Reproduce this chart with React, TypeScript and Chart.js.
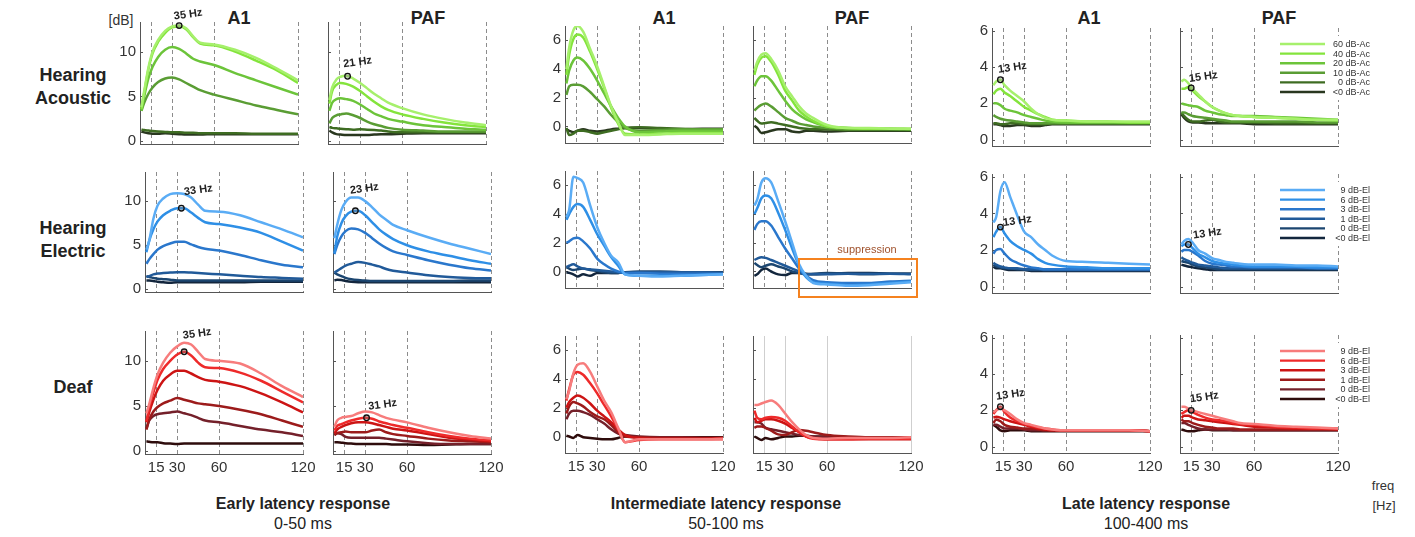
import React, { useEffect, useRef } from "react";
import { Chart, registerables } from "chart.js";

Chart.register(...registerables);
Chart.defaults.font.family = '"Liberation Sans", Arial, Helvetica, sans-serif';

// ---------------- DATA ----------------
const freqs = [8, 10, 13, 16, 20, 25, 30, 35, 40, 45, 50, 60, 75, 90, 105, 120];
const xTickValues = [15, 30, 60, 120];

const acousticLabels = ["60 dB-Ac", "40 dB-Ac", "20 dB-Ac", "10 dB-Ac", "0 dB-Ac", "<0 dB-Ac"];
const electricLabels = ["9 dB-El", "6 dB-El", "3 dB-El", "1 dB-El", "0 dB-El", "<0 dB-El"];

const greenColors = ["#a6f06c", "#84e43c", "#6cc43a", "#5a9d34", "#3e6c22", "#29371f"];
const blueColors = ["#5aacf5", "#2e8fe6", "#2a77cc", "#215a99", "#1c4670", "#13263d"];
const redColors = ["#f77c7c", "#ee2a2a", "#cc1414", "#9c1b1b", "#74202a", "#2e0c0c"];

// Hearing Acoustic
const acEarlyA1 = [
  [3.8, 5.6, 8.2, 10.0, 11.3, 12.3, 12.8, 12.9, 12.6, 11.7, 11.0, 10.8, 10.2, 9.3, 8.1, 6.8],
  [3.6, 5.4, 8.0, 9.8, 11.1, 12.1, 12.7, 12.8, 12.5, 11.6, 10.9, 10.7, 10.0, 9.0, 7.9, 6.5],
  [3.4, 5.0, 7.0, 8.3, 9.4, 10.2, 10.5, 10.3, 9.8, 9.2, 8.9, 8.5, 7.6, 6.8, 6.0, 5.2],
  [3.4, 4.3, 5.3, 6.0, 6.6, 7.0, 7.1, 6.9, 6.5, 6.1, 5.7, 5.2, 4.6, 4.0, 3.5, 3.0],
  [1.3, 1.25, 1.2, 1.15, 1.1, 1.05, 1.0, 1.0, 0.95, 0.95, 0.9, 0.9, 0.9, 0.85, 0.85, 0.85],
  [1.1, 1.0, 0.9, 0.85, 0.85, 0.9, 0.85, 0.8, 0.75, 0.75, 0.75, 0.8, 0.8, 0.8, 0.8, 0.8],
];
const acEarlyPAF = [
  [4.6, 6.0, 6.9, 7.2, 7.3, 7.0, 6.5, 5.9, 5.3, 4.8, 4.3, 3.7, 3.0, 2.5, 2.1, 1.8],
  [4.2, 5.6, 6.3, 6.5, 6.4, 6.1, 5.6, 5.0, 4.4, 3.9, 3.5, 3.0, 2.5, 2.1, 1.8, 1.6],
  [3.4, 4.3, 4.7, 4.8, 4.7, 4.5, 4.1, 3.6, 3.1, 2.8, 2.5, 2.2, 1.8, 1.6, 1.4, 1.3],
  [2.0, 2.6, 2.9, 3.0, 3.1, 2.9, 2.6, 2.2, 1.9, 1.7, 1.5, 1.3, 1.2, 1.1, 1.1, 1.1],
  [1.6, 1.5, 1.45, 1.4, 1.35, 1.3, 1.35, 1.3, 1.25, 1.2, 1.1, 1.0, 1.0, 1.0, 1.0, 1.0],
  [1.2, 1.0, 0.8, 0.75, 0.7, 0.7, 0.7, 0.7, 0.75, 0.8, 0.8, 0.85, 0.9, 0.9, 0.9, 0.9],
];
const acMidA1 = [
  [4.0, 5.5, 6.7, 7.0, 6.6, 5.4, 4.2, 2.8, 1.4, 0.3, -0.6, -0.6, -0.55, -0.5, -0.5, -0.5],
  [3.6, 5.0, 6.1, 6.4, 6.2, 5.2, 4.0, 2.7, 1.3, 0.2, -0.5, -0.55, -0.5, -0.45, -0.45, -0.45],
  [3.0, 3.9, 4.6, 4.8, 4.6, 4.0, 3.2, 2.3, 1.4, 0.6, 0.0, -0.4, -0.35, -0.3, -0.3, -0.3],
  [2.2, 2.8, 2.9, 2.9, 2.8, 2.4, 1.9, 1.4, 0.8, 0.3, -0.1, -0.3, -0.25, -0.2, -0.2, -0.2],
  [-0.1, -0.6, -0.5, -0.3, -0.3, -0.4, -0.5, -0.4, -0.3, -0.2, -0.1, -0.05, -0.1, -0.15, -0.2, -0.2],
  [-0.2, -0.3, -0.4, -0.3, -0.2, -0.3, -0.35, -0.3, -0.2, -0.15, -0.1, -0.1, -0.15, -0.2, -0.15, -0.15],
];
const acMidPAF = [
  [3.9, 4.5, 5.0, 5.1, 4.7, 3.9, 2.8, 2.1, 1.4, 0.9, 0.6, 0.1, -0.1, -0.1, -0.15, -0.15],
  [3.6, 4.3, 4.8, 4.9, 4.5, 3.6, 2.5, 1.8, 1.1, 0.7, 0.4, 0.0, -0.1, -0.15, -0.15, -0.15],
  [2.8, 3.2, 3.5, 3.5, 3.2, 2.5, 1.8, 1.2, 0.8, 0.5, 0.3, 0.0, -0.1, -0.15, -0.15, -0.2],
  [1.1, 1.3, 1.5, 1.6, 1.4, 1.0, 0.6, 0.4, 0.2, 0.1, 0.0, -0.1, -0.2, -0.2, -0.2, -0.2],
  [0.6, 0.4, 0.2, 0.25, 0.3, 0.2, 0.1, 0.0, -0.1, -0.15, -0.2, -0.2, -0.25, -0.25, -0.25, -0.25],
  [0.05, -0.1, -0.45, -0.4, -0.3, -0.2, -0.2, -0.35, -0.4, -0.3, -0.3, -0.35, -0.3, -0.3, -0.3, -0.3],
];
const acLateA1 = [
  [3.0, 3.2, 3.3, 3.0, 2.7, 2.4, 2.1, 1.7, 1.4, 1.2, 1.1, 1.05, 1.0, 1.0, 1.0, 1.0],
  [2.5, 2.7, 2.8, 2.6, 2.4, 2.1, 1.8, 1.6, 1.4, 1.25, 1.1, 1.05, 1.0, 1.0, 0.95, 0.95],
  [2.0, 2.0, 1.9, 1.7, 1.6, 1.5, 1.35, 1.25, 1.15, 1.05, 1.0, 0.95, 0.95, 0.95, 0.95, 0.95],
  [1.35, 1.25, 1.15, 1.1, 1.05, 1.0, 0.95, 0.9, 0.9, 0.9, 0.9, 0.9, 0.9, 0.9, 0.9, 0.9],
  [0.9, 0.9, 0.85, 0.85, 0.9, 0.9, 0.85, 0.85, 0.85, 0.85, 0.9, 0.9, 0.9, 0.9, 0.9, 0.9],
  [0.85, 0.85, 0.8, 0.75, 0.75, 0.8, 0.8, 0.75, 0.75, 0.8, 0.85, 0.85, 0.85, 0.85, 0.85, 0.85],
];
const acLatePAF = [
  [3.2, 3.3, 3.1, 2.8, 2.5, 2.1, 1.8, 1.6, 1.45, 1.35, 1.3, 1.25, 1.2, 1.15, 1.1, 1.1],
  [2.8, 2.8, 2.9, 2.7, 2.4, 2.1, 1.8, 1.6, 1.45, 1.35, 1.3, 1.25, 1.2, 1.15, 1.1, 1.05],
  [2.0, 1.95, 1.9, 1.85, 1.8, 1.6, 1.5, 1.4, 1.35, 1.3, 1.3, 1.3, 1.25, 1.2, 1.15, 1.1],
  [1.5, 1.5, 1.4, 1.3, 1.25, 1.2, 1.15, 1.1, 1.05, 1.0, 1.0, 1.0, 1.0, 1.0, 0.95, 0.95],
  [1.5, 1.3, 1.1, 1.0, 1.0, 1.05, 1.1, 1.0, 0.95, 0.95, 0.95, 0.95, 0.9, 0.9, 0.9, 0.9],
  [1.4, 1.2, 1.0, 0.95, 0.95, 0.9, 0.9, 0.9, 0.9, 0.9, 0.9, 0.85, 0.85, 0.85, 0.85, 0.85],
];

// Hearing Electric
const elEarlyA1 = [
  [4.5, 5.5, 8.0, 9.5, 10.3, 10.8, 10.9, 10.8, 10.4, 9.6, 8.9, 8.8, 8.4, 7.6, 6.8, 5.9],
  [4.2, 5.5, 6.8, 7.7, 8.4, 8.9, 9.2, 9.2, 8.7, 8.1, 7.6, 7.4, 7.0, 6.4, 5.4, 4.4],
  [2.9, 3.4, 4.0, 4.5, 4.9, 5.2, 5.4, 5.4, 5.1, 4.8, 4.6, 4.4, 3.9, 3.3, 2.8, 2.5],
  [1.4, 1.5, 1.7, 1.8, 1.85, 1.9, 1.95, 1.95, 1.9, 1.85, 1.8, 1.7, 1.55, 1.4, 1.3, 1.2],
  [1.5, 1.4, 1.3, 1.2, 1.15, 1.1, 1.0, 1.0, 1.0, 1.0, 1.0, 1.0, 1.0, 1.0, 1.0, 1.0],
  [1.0, 1.0, 0.95, 0.85, 0.8, 0.75, 0.8, 0.8, 0.8, 0.8, 0.8, 0.8, 0.8, 0.85, 0.85, 0.85],
];
const elEarlyPAF = [
  [5.8, 7.3, 9.0, 9.9, 10.4, 10.4, 10.0, 9.3, 8.5, 7.9, 7.3, 6.7, 5.9, 5.2, 4.6, 4.0],
  [4.1, 6.0, 7.5, 8.3, 8.8, 8.9, 8.4, 7.6, 6.8, 6.2, 5.7, 5.0, 4.3, 3.8, 3.3, 2.9],
  [4.0, 5.0, 6.0, 6.6, 6.9, 6.8, 6.4, 5.8, 5.2, 4.7, 4.3, 3.9, 3.3, 2.8, 2.4, 2.15],
  [1.9, 2.1, 2.4, 2.7, 2.9, 3.1, 3.0, 2.8, 2.6, 2.3, 2.1, 1.9, 1.6, 1.4, 1.3, 1.25],
  [1.9, 1.7, 1.5, 1.3, 1.15, 1.05, 1.0, 0.95, 0.95, 0.95, 0.95, 0.95, 0.95, 0.95, 1.0, 1.0],
  [1.0, 1.1, 1.05, 0.95, 0.85, 0.8, 0.8, 0.8, 0.8, 0.8, 0.8, 0.8, 0.8, 0.8, 0.8, 0.8],
];
const elMidA1 = [
  [3.8, 4.3, 6.6, 6.5, 6.2, 4.6, 3.1, 2.0, 1.1, 0.65, -0.2, -0.3, -0.35, -0.3, -0.25, -0.2],
  [3.6, 4.0, 4.5, 4.7, 4.5, 3.6, 2.6, 1.8, 1.0, 0.4, -0.2, -0.3, -0.3, -0.3, -0.25, -0.2],
  [2.0, 2.1, 2.3, 2.35, 2.1, 1.6, 0.9, 0.5, 0.2, 0.0, -0.1, -0.1, -0.15, -0.15, -0.15, -0.15],
  [0.3, 0.4, 0.5, 0.35, 0.2, 0.15, 0.1, 0.05, 0.0, -0.05, -0.1, -0.05, -0.05, -0.05, -0.05, -0.1],
  [0.3, 0.2, 0.1, 0.15, 0.2, 0.1, 0.05, -0.05, -0.1, -0.1, -0.05, 0.0, 0.0, -0.05, -0.05, -0.05],
  [-0.05, -0.1, -0.2, -0.35, -0.2, -0.3, -0.1, -0.1, -0.1, -0.1, -0.05, -0.05, -0.05, -0.1, -0.1, -0.1],
];
const elMidPAF = [
  [4.6, 5.0, 6.2, 6.5, 6.2, 4.9, 3.5, 2.0, 0.5, -0.3, -0.8, -0.9, -1.0, -0.95, -0.85, -0.75],
  [4.0, 4.4, 5.1, 5.3, 5.1, 4.1, 2.9, 1.6, 0.4, -0.4, -0.75, -0.85, -0.95, -0.9, -0.8, -0.7],
  [2.9, 3.3, 3.5, 3.5, 3.2, 2.4, 1.6, 0.9, 0.2, -0.3, -0.6, -0.75, -0.8, -0.8, -0.7, -0.65],
  [0.8, 0.9, 1.0, 0.95, 0.8, 0.6, 0.4, 0.2, 0.0, -0.2, -0.2, -0.2, -0.15, -0.15, -0.15, -0.2],
  [0.6, 0.45, 0.3, 0.4, 0.5, 0.35, 0.2, 0.0, -0.1, -0.2, -0.15, -0.1, -0.15, -0.2, -0.15, -0.15],
  [-0.3, -0.2, 0.1, 0.2, 0.0, -0.2, -0.25, -0.1, -0.1, -0.15, -0.2, -0.15, -0.1, -0.1, -0.15, -0.15],
];
const elLateA1 = [
  [3.5, 3.8, 5.2, 5.7, 4.9, 3.9, 3.0, 2.7, 2.3, 2.0, 1.7, 1.4, 1.35, 1.3, 1.25, 1.2],
  [2.7, 3.0, 3.25, 2.9, 2.5, 2.2, 2.0, 1.8, 1.5, 1.3, 1.2, 1.1, 1.05, 1.0, 1.0, 1.0],
  [1.8, 2.0, 2.05, 1.8, 1.5, 1.3, 1.15, 1.05, 1.0, 0.95, 0.95, 0.95, 0.95, 0.95, 0.95, 0.95],
  [1.3, 1.2, 1.1, 1.05, 1.0, 1.0, 0.95, 0.95, 0.95, 0.9, 0.9, 0.9, 0.9, 0.9, 0.9, 0.9],
  [1.2, 1.1, 1.05, 1.0, 1.0, 0.95, 0.95, 0.9, 0.9, 0.9, 0.9, 0.9, 0.9, 0.9, 0.9, 0.9],
  [1.1, 1.0, 1.0, 0.95, 0.9, 0.9, 0.9, 0.85, 0.85, 0.85, 0.85, 0.85, 0.85, 0.85, 0.85, 0.85],
];
const elLatePAF = [
  [2.3, 2.5, 2.6, 2.4, 2.0, 1.8, 1.55, 1.45, 1.35, 1.3, 1.25, 1.2, 1.2, 1.15, 1.15, 1.1],
  [2.2, 2.3, 2.3, 2.1, 1.8, 1.6, 1.4, 1.3, 1.25, 1.2, 1.15, 1.1, 1.1, 1.1, 1.05, 1.05],
  [1.9, 2.0, 2.0, 1.9, 1.7, 1.4, 1.25, 1.2, 1.15, 1.1, 1.1, 1.05, 1.05, 1.05, 1.0, 1.0],
  [1.6, 1.5, 1.4, 1.3, 1.2, 1.15, 1.1, 1.05, 1.0, 1.0, 1.0, 1.0, 1.0, 1.0, 1.0, 1.0],
  [1.4, 1.35, 1.3, 1.2, 1.1, 1.05, 1.0, 0.95, 0.95, 0.95, 0.95, 0.95, 0.95, 0.95, 0.95, 0.95],
  [1.2, 1.15, 1.1, 1.05, 1.0, 0.95, 0.9, 0.9, 0.9, 0.9, 0.9, 0.9, 0.9, 0.9, 0.9, 0.9],
];

// Deaf
const dfEarlyA1 = [
  [4.2, 5.2, 7.0, 8.5, 9.8, 10.9, 11.6, 12.0, 11.8, 11.0, 10.2, 10.0, 9.7, 8.6, 7.2, 6.0],
  [3.3, 4.8, 6.5, 7.9, 9.1, 10.0, 10.7, 11.0, 10.6, 9.8, 9.3, 9.2, 8.7, 7.8, 6.6, 5.4],
  [3.2, 4.3, 5.7, 6.8, 7.8, 8.5, 8.9, 8.9, 8.6, 8.2, 7.9, 7.7, 7.2, 6.4, 5.4, 4.3],
  [2.4, 3.5, 4.4, 4.9, 5.3, 5.6, 5.9, 5.7, 5.5, 5.3, 5.2, 5.0, 4.6, 4.1, 3.4, 2.7],
  [2.5, 3.4, 3.9, 4.1, 4.2, 4.3, 4.4, 4.2, 4.0, 3.7, 3.4, 3.2, 2.8, 2.4, 2.1, 1.7],
  [1.1, 1.05, 1.0, 1.0, 0.9, 0.85, 0.8, 0.85, 0.85, 0.85, 0.85, 0.85, 0.85, 0.85, 0.85, 0.85],
];
const dfEarlyPAF = [
  [2.7, 3.4, 3.7, 3.8, 3.9, 4.2, 4.4, 4.3, 4.0, 3.7, 3.5, 3.2, 2.6, 2.1, 1.7, 1.4],
  [2.3, 2.8, 3.0, 3.2, 3.4, 3.6, 3.7, 3.6, 3.3, 3.1, 2.9, 2.6, 2.1, 1.7, 1.4, 1.2],
  [2.0, 2.4, 2.7, 2.9, 3.1, 3.2, 3.2, 3.1, 2.9, 2.7, 2.5, 2.3, 1.9, 1.5, 1.3, 1.1],
  [1.8, 2.0, 2.1, 2.2, 2.1, 2.1, 2.1, 2.3, 2.4, 2.1, 1.9, 1.7, 1.4, 1.2, 1.1, 1.0],
  [1.8, 2.0, 1.9, 1.6, 1.5, 1.5, 1.5, 1.5, 1.5, 1.4, 1.3, 1.1, 0.9, 0.8, 0.8, 0.8],
  [1.0, 1.0, 0.95, 0.9, 0.85, 0.8, 0.8, 0.8, 0.8, 0.8, 0.75, 0.75, 0.7, 0.75, 0.8, 0.8],
];
const dfMidA1 = [
  [2.6, 3.2, 4.4, 5.0, 5.1, 4.5, 3.5, 2.5, 1.7, 0.6, -0.4, -0.2, -0.2, -0.2, -0.2, -0.15],
  [2.5, 3.3, 4.3, 4.5, 4.3, 3.7, 3.0, 2.2, 1.4, 0.5, -0.4, -0.25, -0.2, -0.2, -0.2, -0.2],
  [2.0, 2.4, 2.7, 2.85, 2.7, 2.3, 1.8, 1.4, 1.0, 0.5, 0.1, -0.1, -0.15, -0.15, -0.15, -0.1],
  [1.6, 2.1, 2.4, 2.3, 2.1, 1.7, 1.4, 1.2, 0.8, 0.3, 0.0, -0.05, -0.1, -0.1, -0.1, -0.1],
  [1.2, 1.6, 1.8, 1.8, 1.7, 1.5, 1.2, 0.9, 0.5, 0.2, 0.1, 0.0, -0.05, -0.05, -0.1, -0.1],
  [0.05, 0.0, -0.1, 0.1, -0.05, -0.1, -0.15, -0.2, -0.2, -0.1, 0.0, -0.05, -0.05, -0.05, -0.05, -0.05],
];
const dfMidPAF = [
  [2.2, 2.2, 2.3, 2.4, 2.5, 2.2, 1.6, 1.0, 0.5, 0.1, -0.1, -0.15, -0.1, -0.1, -0.1, -0.05],
  [1.8, 1.3, 1.2, 1.3, 1.35, 1.3, 1.1, 0.7, 0.3, 0.0, -0.15, -0.2, -0.2, -0.15, -0.15, -0.15],
  [1.3, 1.0, 1.1, 1.2, 1.2, 1.1, 0.9, 0.6, 0.3, 0.0, -0.1, -0.2, -0.2, -0.2, -0.2, -0.2],
  [0.6, 0.7, 0.7, 0.6, 0.4, 0.15, 0.1, 0.3, 0.45, 0.4, 0.3, 0.1, 0.0, -0.05, -0.05, -0.05],
  [1.0, 1.0, 0.9, 0.6, 0.5, 0.4, 0.3, 0.2, 0.1, 0.05, 0.0, -0.05, -0.1, -0.1, -0.1, -0.1],
  [0.0, -0.1, -0.25, -0.1, -0.2, -0.1, 0.0, 0.0, 0.05, 0.05, 0.0, 0.0, -0.05, -0.05, -0.05, -0.05],
];
const dfLateA1 = [
  [1.9, 2.0, 2.1, 2.0, 1.8, 1.5, 1.3, 1.2, 1.1, 1.0, 0.95, 0.9, 0.9, 0.9, 0.9, 0.85],
  [1.8, 2.0, 2.2, 1.9, 1.6, 1.4, 1.25, 1.15, 1.05, 1.0, 0.95, 0.9, 0.9, 0.9, 0.9, 0.85],
  [1.6, 1.65, 1.6, 1.5, 1.4, 1.3, 1.2, 1.1, 1.0, 0.95, 0.9, 0.9, 0.9, 0.9, 0.9, 0.85],
  [1.3, 1.5, 1.4, 1.2, 1.1, 1.05, 1.0, 1.0, 0.95, 0.9, 0.9, 0.9, 0.9, 0.9, 0.9, 0.85],
  [1.2, 1.2, 1.1, 1.0, 1.0, 1.0, 0.95, 0.9, 0.9, 0.9, 0.9, 0.9, 0.9, 0.9, 0.9, 0.85],
  [1.2, 1.1, 0.9, 0.85, 0.9, 0.9, 0.9, 0.85, 0.85, 0.85, 0.85, 0.85, 0.85, 0.85, 0.85, 0.85],
];
const dfLatePAF = [
  [2.2, 2.2, 2.1, 2.0, 1.9, 1.8, 1.7, 1.6, 1.5, 1.4, 1.3, 1.25, 1.15, 1.1, 1.05, 1.0],
  [1.8, 1.9, 2.0, 1.9, 1.75, 1.6, 1.5, 1.45, 1.4, 1.3, 1.25, 1.2, 1.1, 1.05, 1.0, 1.0],
  [1.6, 1.7, 1.7, 1.6, 1.5, 1.45, 1.4, 1.35, 1.3, 1.25, 1.2, 1.1, 1.05, 1.0, 1.0, 0.95],
  [1.5, 1.4, 1.4, 1.3, 1.2, 1.1, 1.05, 1.0, 1.0, 1.0, 0.95, 0.95, 0.95, 0.95, 0.95, 0.95],
  [1.3, 1.3, 1.2, 1.1, 1.0, 0.95, 0.95, 0.95, 0.95, 0.9, 0.9, 0.9, 0.9, 0.9, 0.9, 0.9],
  [0.95, 0.9, 0.85, 0.85, 0.9, 0.95, 0.9, 0.9, 0.9, 0.9, 0.9, 0.9, 0.9, 0.9, 0.9, 0.9],
];

// peak markers [frequency Hz, dB] per panel (null = none)
const acPeaks = [[35, 12.9], [21, 7.25], null, null, [13, 3.3], [15, 2.85]];
const elPeaks = [[33, 9.2], [23, 8.9], null, null, [13, 3.25], [13, 2.3]];
const dfPeaks = [[35, 11.0], [31, 3.7], null, null, [13, 2.2], [15, 2.0]];

const rowTitles = [["Hearing", "Acoustic"], ["Hearing", "Electric"], ["Deaf"]];
const colTitles = ["A1", "PAF", "A1", "PAF", "A1", "PAF"];
const groupTitles = ["Early latency response", "Intermediate latency response", "Late latency response"];
const groupRanges = ["0-50 ms", "50-100 ms", "100-400 ms"];
const yTickSets = [[0, 5, 10], [0, 2, 4, 6], [0, 2, 4, 6]];

// ---------------- LAYOUT / STYLE ----------------
const FONT = '"Liberation Sans", Arial, Helvetica, sans-serif';
const Y_W = 32;
const PAD_TOP = 22;
const PLOT_W = 158;
const AXIS = "#555";
const rowLefts = [
  [140, 328, 565, 753, 992, 1180],
  [145, 333, 565, 753, 992, 1180],
  [145, 333, 565, 753, 992, 1180],
];
const rowTopBottom = [
  [[22, 144], [26, 143], [28, 146]],
  [[172, 292], [171, 288], [174, 293]],
  [[331, 454], [336, 453], [335, 453]],
];
const groupYRange = [[-0.3, 13.3], [-1.15, 7.0], [-0.35, 6.15]];
const peakLabelOffsets = [
  [[9, -11], [10, -14], null, null, [12, -12], [12, -11]],
  [[17, -18], [9, -22], null, null, [17, -6], [19, -11]],
  [[13, -18], [16, -13], null, null, [10, -12], [13, -13]],
];

type Spec = {
  key: string;
  left: number;
  top: number;
  bottom: number;
  yMin: number;
  yMax: number;
  yTicks: number[];
  series: number[][];
  colors: string[];
  labels: string[];
  showYLabels: boolean;
  showXLabels: boolean;
  peak: number[] | null;
  peakOffset: number[] | null;
  legend: boolean;
  solidGrid: boolean;
};

const decoPlugin = {
  id: "deco",
  beforeDatasetsDraw(chart: any) {
    const spec: Spec = chart.options.plugins.deco.spec;
    const { ctx, chartArea } = chart;
    const xs = chart.scales.x;
    const ys = chart.scales.y;
    ctx.save();
    ctx.lineWidth = 1;
    ctx.strokeStyle = spec.solidGrid ? "#cfcfcf" : "#8c8c8c";
    ctx.setLineDash(spec.solidGrid ? [] : [4, 3]);
    xTickValues.forEach((v) => {
      const px = Math.round(xs.getPixelForValue(v)) + 0.5;
      ctx.beginPath();
      ctx.moveTo(px, chartArea.top);
      ctx.lineTo(px, chartArea.bottom);
      ctx.stroke();
    });
    ctx.setLineDash([]);
    ctx.strokeStyle = AXIS;
    spec.yTicks.forEach((v) => {
      const py = Math.round(ys.getPixelForValue(v)) + 0.5;
      ctx.beginPath();
      ctx.moveTo(chartArea.left, py);
      ctx.lineTo(chartArea.left + 3, py);
      ctx.stroke();
    });
    ctx.restore();
  },
  afterDatasetsDraw(chart: any) {
    const spec: Spec = chart.options.plugins.deco.spec;
    const { ctx, chartArea } = chart;
    const xs = chart.scales.x;
    const ys = chart.scales.y;
    if (spec.peak && spec.peakOffset) {
      const px = xs.getPixelForValue(spec.peak[0]);
      const py = ys.getPixelForValue(spec.peak[1]);
      ctx.save();
      ctx.translate(px + spec.peakOffset[0], py + spec.peakOffset[1]);
      ctx.rotate((-8 * Math.PI) / 180);
      ctx.font = `bold 11px ${FONT}`;
      ctx.fillStyle = "#222";
      ctx.textAlign = "center";
      ctx.textBaseline = "middle";
      ctx.fillText(`${spec.peak[0]} Hz`, 0, 0);
      ctx.restore();
    }
    if (spec.legend) {
      const l = chartArea.left;
      const t = chartArea.top;
      ctx.save();
      ctx.fillStyle = "#fff";
      ctx.fillRect(l + 90, t + 8, 108, 64);
      ctx.font = `9px ${FONT}`;
      ctx.textAlign = "right";
      ctx.textBaseline = "middle";
      spec.labels.forEach((lab, i) => {
        const y = t + 16 + i * 9.6;
        ctx.strokeStyle = spec.colors[i];
        ctx.lineWidth = 2.4;
        ctx.beginPath();
        ctx.moveTo(l + 100, y);
        ctx.lineTo(l + 145, y);
        ctx.stroke();
        ctx.fillStyle = "#333";
        ctx.fillText(lab, l + 190, y + 0.5);
      });
      ctx.restore();
    }
  },
};

function Panel({ spec }: { spec: Spec }) {
  const ref = useRef<HTMLCanvasElement | null>(null);
  const padRight = spec.legend ? 45 : 25;
  const xH = spec.showXLabels ? 24 : 2;
  const padBottom = spec.showXLabels ? 0 : 16;
  const plotH = spec.bottom - spec.top;
  const w = Y_W + PLOT_W + padRight;
  const h = PAD_TOP + plotH + xH + padBottom;

  useEffect(() => {
    const canvas = ref.current;
    if (!canvas) return;
    const datasets: any[] = spec.series.map((vals, i) => ({
      label: spec.labels[i],
      data: freqs.map((f, j) => ({ x: f, y: vals[j] })),
      borderColor: spec.colors[i],
      backgroundColor: spec.colors[i],
      borderWidth: 2.5,
      pointRadius: 0,
      cubicInterpolationMode: "monotone",
      fill: false,
    }));
    if (spec.peak) {
      datasets.unshift({
        label: "peak",
        data: [{ x: spec.peak[0], y: spec.peak[1] }],
        showLine: false,
        pointRadius: 2.8,
        pointBackgroundColor: "rgba(120,120,120,0.35)",
        pointBorderColor: "#111",
        pointBorderWidth: 1.3,
        clip: false,
      });
    }
    const chart = new Chart(canvas, {
      type: "line",
      data: { datasets },
      plugins: [decoPlugin],
      options: {
        animation: false,
        responsive: false,
        devicePixelRatio: 1,
        events: [],
        layout: { padding: { top: PAD_TOP, right: padRight, bottom: padBottom, left: 0 } },
        plugins: {
          legend: { display: false },
          tooltip: { enabled: false },
          deco: { spec },
        } as any,
        scales: {
          x: {
            type: "linear",
            min: 7,
            max: 120,
            afterBuildTicks: (s: any) => {
              s.ticks = xTickValues.map((v) => ({ value: v }));
            },
            afterFit: (s: any) => {
              s.height = xH;
            },
            grid: { display: false, drawTicks: false },
            border: { display: true, color: AXIS, width: 1 },
            ticks: {
              display: spec.showXLabels,
              autoSkip: false,
              maxRotation: 0,
              padding: 5,
              color: "#333",
              font: { size: 15, family: FONT },
            },
          },
          y: {
            type: "linear",
            min: spec.yMin,
            max: spec.yMax,
            afterBuildTicks: (s: any) => {
              s.ticks = spec.yTicks.map((v) => ({ value: v }));
            },
            afterFit: (s: any) => {
              s.width = Y_W;
            },
            grid: { display: false, drawTicks: false },
            border: { display: true, color: AXIS, width: 1 },
            ticks: {
              display: spec.showYLabels,
              padding: 4,
              color: "#333",
              font: { size: 15, family: FONT },
            },
          },
        },
      } as any,
    });
    return () => chart.destroy();
  }, []);

  return (
    <canvas
      ref={ref}
      width={w}
      height={h}
      style={{
        position: "absolute",
        left: spec.left - Y_W,
        top: spec.top - PAD_TOP,
        width: w,
        height: h,
      }}
    />
  );
}

function Txt({ x, y, children, style }: { x: number; y: number; children: any; style?: any }) {
  return (
    <div
      style={{
        position: "absolute",
        left: x,
        top: y,
        transform: "translate(-50%, -50%)",
        whiteSpace: "nowrap",
        lineHeight: 1,
        ...style,
      }}
    >
      {children}
    </div>
  );
}

export default function App() {
  const panelData = [
    [acEarlyA1, acEarlyPAF, acMidA1, acMidPAF, acLateA1, acLatePAF],
    [elEarlyA1, elEarlyPAF, elMidA1, elMidPAF, elLateA1, elLatePAF],
    [dfEarlyA1, dfEarlyPAF, dfMidA1, dfMidPAF, dfLateA1, dfLatePAF],
  ];
  const rowColors = [greenColors, blueColors, redColors];
  const rowLabels = [acousticLabels, electricLabels, electricLabels];
  const rowPeaks = [acPeaks, elPeaks, dfPeaks];

  const specs: Spec[] = [];
  for (let r = 0; r < 3; r++) {
    for (let c = 0; c < 6; c++) {
      const g = Math.floor(c / 2);
      const [top, bottom] = rowTopBottom[r][g];
      specs.push({
        key: `p${r}${c}`,
        left: rowLefts[r][c],
        top,
        bottom,
        yMin: groupYRange[g][0],
        yMax: groupYRange[g][1],
        yTicks: yTickSets[g],
        series: panelData[r][c],
        colors: rowColors[r],
        labels: rowLabels[r],
        showYLabels: c % 2 === 0,
        showXLabels: r === 2,
        peak: rowPeaks[r][c] as number[] | null,
        peakOffset: peakLabelOffsets[r][c] as number[] | null,
        legend: c === 5,
        solidGrid: r === 2 && c === 3,
      });
    }
  }

  const colCenters = [239, 428, 664, 852, 1089, 1279];
  const groupCenters = [303, 726, 1146];
  const rowLabelY = [[75, 98], [228, 251], [387]];

  return (
    <div
      style={{
        position: "absolute",
        left: 0,
        top: 0,
        width: 1415,
        height: 537,
        background: "#fff",
        overflow: "hidden",
        fontFamily: FONT,
        color: "#222",
      }}
    >
      {rowTitles.map((lines, r) =>
        lines.map((t, i) => (
          <Txt key={`rt${r}${i}`} x={73} y={rowLabelY[r][i]} style={{ fontWeight: "bold", fontSize: 18 }}>
            {t}
          </Txt>
        ))
      )}
      {colTitles.map((t, i) => (
        <Txt key={`ct${i}`} x={colCenters[i]} y={18} style={{ fontWeight: "bold", fontSize: 18 }}>
          {t}
        </Txt>
      ))}
      <Txt x={121} y={20} style={{ fontSize: 14, color: "#333" }}>
        [dB]
      </Txt>
      {groupTitles.map((t, i) => (
        <Txt key={`gt${i}`} x={groupCenters[i]} y={504} style={{ fontWeight: "bold", fontSize: 16 }}>
          {t}
        </Txt>
      ))}
      {groupRanges.map((t, i) => (
        <Txt key={`gr${i}`} x={groupCenters[i]} y={524} style={{ fontSize: 16 }}>
          {t}
        </Txt>
      ))}
      <Txt x={1383} y={485} style={{ fontSize: 13, color: "#333" }}>
        freq
      </Txt>
      <Txt x={1384} y={505} style={{ fontSize: 13, color: "#333" }}>
        [Hz]
      </Txt>
      {specs.map((s) => (
        <Panel key={s.key} spec={s} />
      ))}
      <div
        style={{
          position: "absolute",
          left: 798,
          top: 258,
          width: 120,
          height: 40,
          border: "2px solid #f5821f",
          boxSizing: "border-box",
        }}
      />
      <Txt x={867} y={249} style={{ fontSize: 11, color: "#a0522d" }}>
        suppression
      </Txt>
    </div>
  );
}
